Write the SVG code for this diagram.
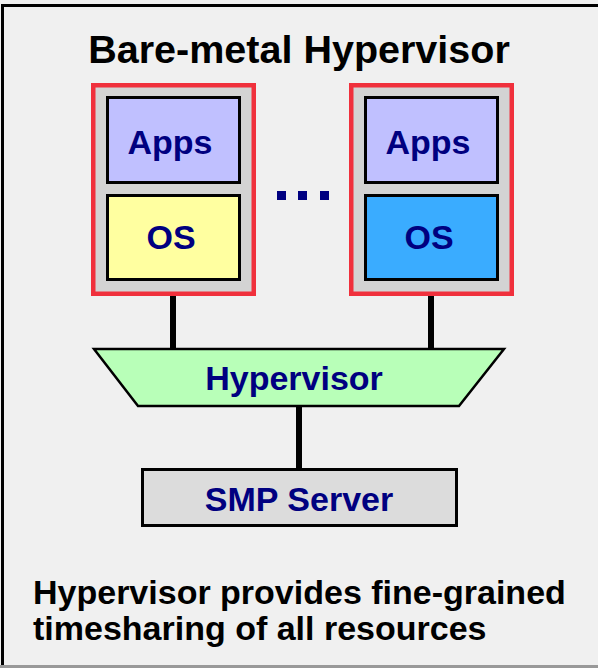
<svg xmlns="http://www.w3.org/2000/svg" width="598" height="668" viewBox="0 0 598 668">
<style>
.vm{fill:#d3d3d3;stroke:#f0303c;stroke-width:4.5}
.box{stroke:#000;stroke-width:3}
.lbl{font-family:"Liberation Sans",Arial,sans-serif;font-weight:bold;font-size:34px;fill:#000080;text-anchor:middle}
.blk{font-family:"Liberation Sans",Arial,sans-serif;font-weight:bold;fill:#000}
.wire{stroke:#000;stroke-width:6;fill:none}
</style>
<rect x="0" y="0" width="598" height="668" fill="#f0f0f0"/>
<path d="M2.5 668 V5.5 H598" fill="none" stroke="#000" stroke-width="3"/>
<rect x="0" y="665" width="598" height="3" fill="#999"/>
<text class="blk" x="299" y="63" font-size="39.5" text-anchor="middle">Bare-metal Hypervisor</text>
<g id="connectors">
<line class="wire" x1="173" y1="296" x2="173" y2="349"/>
<line class="wire" x1="431" y1="296" x2="431" y2="349"/>
<line class="wire" x1="299" y1="406" x2="299" y2="469"/>
</g>
<g id="vm1">
<rect class="vm" x="93.25" y="85.25" width="160.5" height="208.5"/>
<rect class="box" x="107.5" y="97.5" width="132" height="85" fill="#c0c0ff"/>
<text class="lbl" x="170" y="154">Apps</text>
<rect class="box" x="107.5" y="195.5" width="132" height="84" fill="#ffffa0"/>
<text class="lbl" x="171" y="249">OS</text>
</g>
<g id="dots" fill="#000080">
<rect x="277" y="191" width="9" height="9"/>
<rect x="298" y="191" width="9" height="9"/>
<rect x="320" y="191" width="9" height="9"/>
</g>
<g id="vm2">
<rect class="vm" x="351.25" y="85.25" width="160.5" height="208.5"/>
<rect class="box" x="365.5" y="97.5" width="132" height="85" fill="#c0c0ff"/>
<text class="lbl" x="428" y="154">Apps</text>
<rect class="box" x="365.5" y="195.5" width="132" height="84" fill="#3aacff"/>
<text class="lbl" x="429" y="249">OS</text>
</g>
<g id="hypervisor">
<polygon points="94,349 504,349 459,406 138,406" fill="#b8ffb8" stroke="#000" stroke-width="2.5"/>
<text class="lbl" x="294" y="390">Hypervisor</text>
</g>
<g id="smp">
<rect class="box" x="142.5" y="469.5" width="314" height="56" fill="#dcdcdc"/>
<text class="lbl" x="299" y="511">SMP Server</text>
</g>
<text class="blk" x="33" y="604" font-size="34">Hypervisor provides fine-grained</text>
<text class="blk" x="33" y="640" font-size="34">timesharing of all resources</text>
</svg>
